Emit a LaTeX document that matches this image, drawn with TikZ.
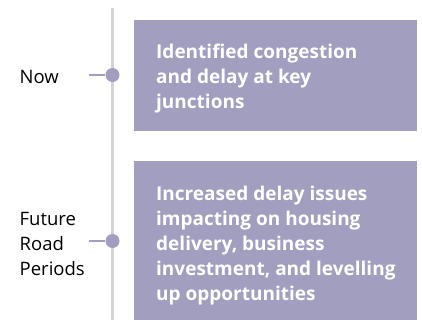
\documentclass[tikz,border=0pt]{standalone}
\usepackage{fontspec}
\setmainfont{Open Sans}[Ligatures=NoCommon]
\definecolor{boxc}{RGB}{161,158,191}
\definecolor{linec}{RGB}{212,212,212}
\tikzset{
  box/.style={fill=boxc, draw=none, inner sep=0pt, anchor=north west},
  boxtext/.style={text=white, font=\bfseries\fontsize{19}{25}\selectfont, align=left, inner sep=0pt, anchor=base west},
  label/.style={text=black, font=\fontsize{18.5}{25}\selectfont, align=left, inner sep=0pt, anchor=base west},
  dot/.style={circle, fill=boxc, draw=none, minimum size=14pt, inner sep=0pt},
  tick/.style={draw=boxc, line width=2.5pt},
}
\begin{document}
\begin{tikzpicture}[x=1pt, y=-1pt]
\useasboundingbox (0,0) rectangle (422,320);
\coordinate (top) at (112.5,8);
\coordinate (bot) at (112.5,320);
\draw[linec, line width=3pt] (top) -- (bot);
\node[box, minimum width=283pt, minimum height=111pt] (b1) at (134,20) {};
\node[box, minimum width=283pt, minimum height=160pt] (b2) at (134,161) {};
\node[boxtext] (t1) at (156,108.3) {Identified congestion\\and delay at key\\junctions};
\node[boxtext] (t2) at (156,300) {Increased delay issues\\impacting on housing\\delivery, business\\investment, and levelling\\up opportunities};
\node[dot] (d1) at (112.5,75) {};
\node[dot] (d2) at (112.5,241) {};
\coordinate (s1) at (89,75);
\coordinate (s2) at (89,241);
\draw[tick] (s1) -- (d1);
\draw[tick] (s2) -- (d2);
\node[label] (l1) at (19.5,84) {Now};
\node[label] (l2) at (19.5,275) {Future\\Road\\Periods};
\end{tikzpicture}
\end{document}
